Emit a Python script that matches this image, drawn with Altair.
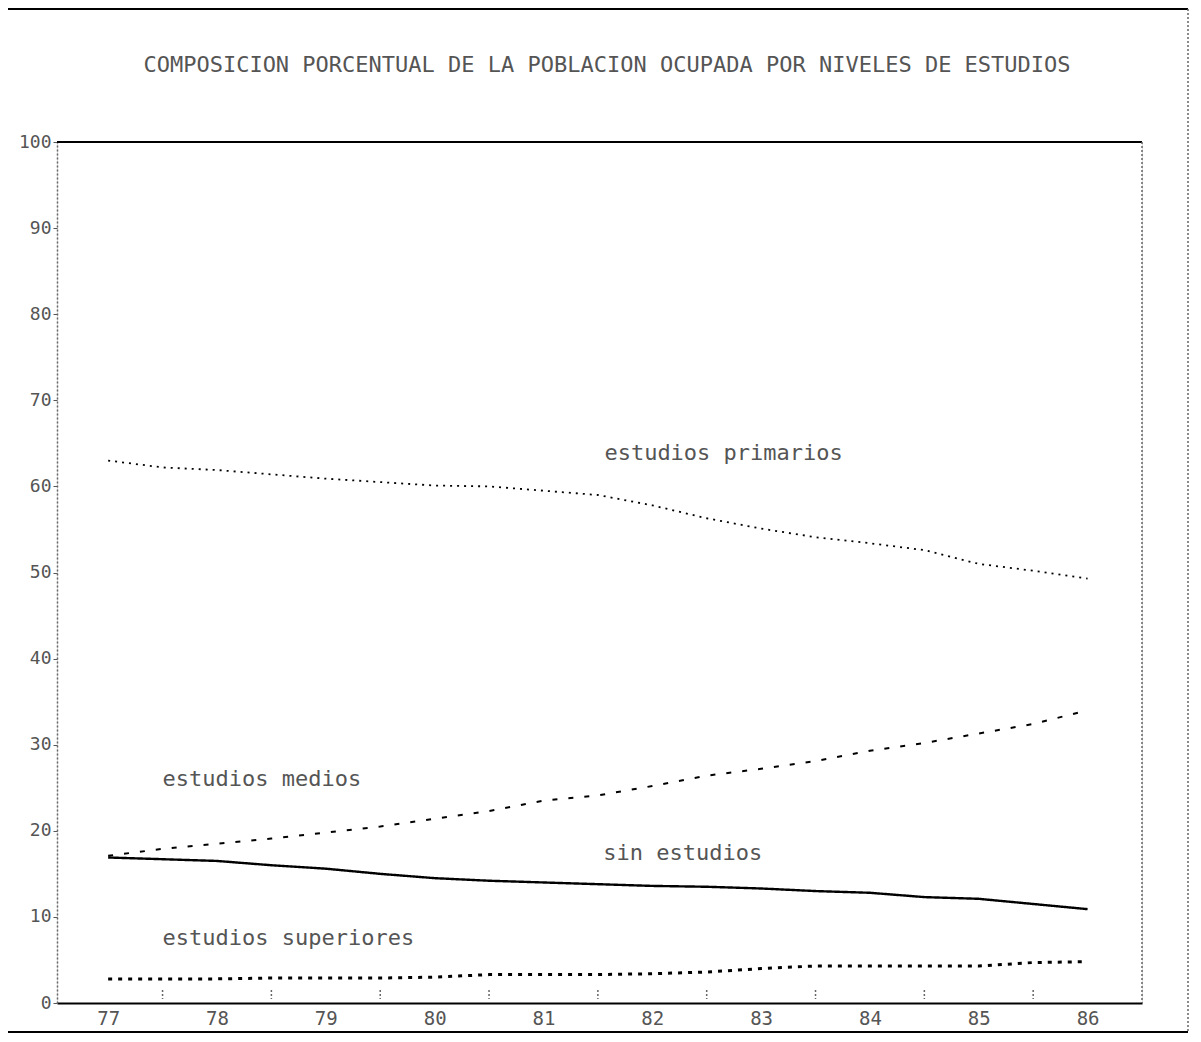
import altair as alt
import pandas as pd

years = [77.0, 77.5, 78.0, 78.5, 79.0, 79.5, 80.0, 80.5, 81.0, 81.5,
         82.0, 82.5, 83.0, 83.5, 84.0, 84.5, 85.0, 85.5, 86.0]
primarios = [63.0, 62.2, 61.9, 61.4, 60.9, 60.5, 60.1, 60.0, 59.5, 59.0,
             57.8, 56.3, 55.1, 54.1, 53.4, 52.6, 51.0, 50.2, 49.3]
medios = [17.1, 17.9, 18.5, 19.1, 19.8, 20.5, 21.4, 22.3, 23.5, 24.1,
          25.2, 26.4, 27.2, 28.1, 29.3, 30.2, 31.3, 32.4, 34.0]
sin_estudios = [16.9, 16.7, 16.5, 16.0, 15.6, 15.0, 14.5, 14.2, 14.0, 13.8,
                13.6, 13.5, 13.3, 13.0, 12.8, 12.3, 12.1, 11.5, 10.9]
superiores = [2.8, 2.8, 2.8, 2.9, 2.9, 2.9, 3.0, 3.3, 3.3, 3.3,
              3.4, 3.6, 4.0, 4.3, 4.3, 4.3, 4.3, 4.7, 4.8]

series_names = ["estudios primarios", "estudios medios", "sin estudios", "estudios superiores"]
label_x = [81.56, 77.5, 81.55, 77.5]
label_y = [63.9, 26.0, 17.4, 7.5]
half_ticks = [77.5, 78.5, 79.5, 80.5, 81.5, 82.5, 83.5, 84.5, 85.5]
year_ticks = [77, 78, 79, 80, 81, 82, 83, 84, 85, 86]
y_ticks = [0, 10, 20, 30, 40, 50, 60, 70, 80, 90, 100]

TITLE = "COMPOSICION PORCENTUAL DE LA POBLACION OCUPADA POR NIVELES DE ESTUDIOS"
FONT = "DejaVu Sans Mono"
W, H = 1085, 861

x_scale = alt.Scale(domain=[76.53, 86.5], nice=False, zero=False)
y_scale = alt.Scale(domain=[0, 100], nice=False)

x_axis = alt.Axis(values=year_ticks, format="d", ticks=False, grid=False,
                  labelFont=FONT, labelFontSize=19, labelColor="#555",
                  labelPadding=6, domainColor="black", domainWidth=2,
                  title=None)
y_axis = alt.Axis(values=y_ticks, format="d", grid=False, tickSize=4,
                  tickColor="#555", labelFont=FONT, labelFontSize=18,
                  labelColor="#555", labelPadding=2, domainColor="#666",
                  domainDash=[2, 2], domainWidth=1.5, title=None)

def line(values, dash, width):
    df = pd.DataFrame({"year": years, "v": values})
    return alt.Chart(df).mark_line(color="black", strokeDash=dash,
                                   strokeWidth=width).encode(
        x=alt.X("year:Q", scale=x_scale, axis=x_axis),
        y=alt.Y("v:Q", scale=y_scale, axis=y_axis),
    )

l_prim = line(primarios, [2, 5], 1.8)
l_med = line(medios, [5, 11], 2)
l_sin = line(sin_estudios, [1, 0], 2.4)
l_sup = line(superiores, [4, 6], 3)

labels_df = pd.DataFrame({"name": series_names, "x": label_x, "y": label_y})
labels = alt.Chart(labels_df).mark_text(
    align="left", baseline="middle", font=FONT, fontSize=22, color="#555"
).encode(
    x=alt.X("x:Q", scale=x_scale),
    y=alt.Y("y:Q", scale=y_scale),
    text="name:N",
)

ticks_df = pd.DataFrame({"x": half_ticks})
half = alt.Chart(ticks_df).mark_rule(color="#666", strokeDash=[2, 2],
                                     strokeWidth=1.5).encode(
    x=alt.X("x:Q", scale=x_scale),
    y=alt.value(H - 13),
    y2=alt.value(H - 4),
)

frame_df = pd.DataFrame({"k": [0]})
title_df = pd.DataFrame({"t": [TITLE]})
title = alt.Chart(title_df).mark_text(
    align="center", baseline="middle", font=FONT, fontSize=22, color="#555"
).encode(x=alt.value(550), y=alt.value(-77), text="t:N")

top_border = alt.Chart(frame_df).mark_rule(color="black", strokeWidth=2).encode(
    x=alt.value(0), x2=alt.value(W), y=alt.value(0))
right_border = alt.Chart(frame_df).mark_rule(color="#666", strokeDash=[2, 2],
                                             strokeWidth=1.5).encode(
    x=alt.value(W), y=alt.value(0), y2=alt.value(H))

# outer picture frame
FR = 1131
outer_top = alt.Chart(frame_df).mark_rule(color="black", strokeWidth=2).encode(
    x=alt.value(-52), x2=alt.value(FR), y=alt.value(-133))
outer_bottom = alt.Chart(frame_df).mark_rule(color="black", strokeWidth=2).encode(
    x=alt.value(-52), x2=alt.value(FR), y=alt.value(H + 29))
outer_left = alt.Chart(frame_df).mark_rule(color="#666", strokeDash=[2, 2],
                                           strokeWidth=1.5).encode(
    x=alt.value(-52), y=alt.value(-133), y2=alt.value(H + 29))
outer_right = alt.Chart(frame_df).mark_rule(color="#666", strokeDash=[2, 2],
                                            strokeWidth=1.5).encode(
    x=alt.value(FR), y=alt.value(-133), y2=alt.value(H + 29))

chart = alt.layer(
    half, l_prim, l_med, l_sin, l_sup, labels, title, top_border, right_border,
    outer_top, outer_bottom, outer_left, outer_right
).properties(
    width=W, height=H,
    autosize=alt.AutoSizeParams(type="none"),
    padding={"left": 49, "top": 134, "right": 50, "bottom": 31},
).configure_view(stroke=None).configure(background="white")

chart.save("out.html", embed_options={"renderer": "svg", "actions": False})
